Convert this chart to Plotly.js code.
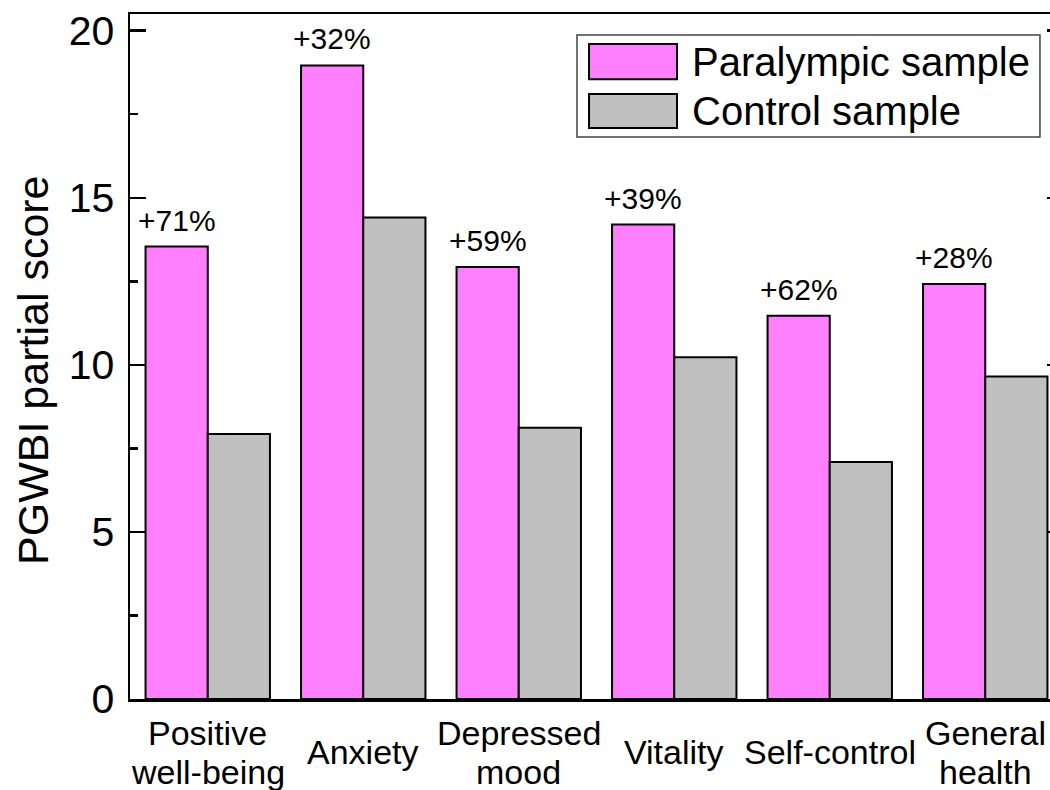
<!DOCTYPE html>
<html>
<head>
<meta charset="utf-8">
<script src="https://cdn.plot.ly/plotly-3.0.1.min.js"></script>
<style>
html,body{margin:0;padding:0;overflow:hidden;background:#fff;width:1050px;height:790px;}
#chart{width:1080px;height:790px;}
</style>
</head>
<body>
<div id="chart"></div>
<script>
var categories = ["Positive<br>well-being", "Anxiety", "Depressed<br>mood", "Vitality", "Self-control", "General<br>health"];
var paralympic = [13.54, 18.96, 12.93, 14.2, 11.47, 12.42];
var control = [7.93, 14.41, 8.12, 10.23, 7.09, 9.65];
var increase = ["+71%", "+32%", "+59%", "+39%", "+62%", "+28%"];
var seriesNames = ["Paralympic sample", "Control sample"];
var yTitle = "PGWBI partial score";
var yTicks = [0, 5, 10, 15, 20];

var FONT = "Liberation Sans, Arial, Helvetica, sans-serif";
var PINK = "#ff80ff", GRAY = "#c0c0c0";
var idx = categories.map(function(_, i){ return i; });

var traces = [
  {type:"bar", name:seriesNames[0], x:idx, y:paralympic,
   marker:{color:PINK, line:{color:"#000", width:2}}, hoverinfo:"y"},
  {type:"bar", name:seriesNames[1], x:idx, y:control,
   marker:{color:GRAY, line:{color:"#000", width:2}}, hoverinfo:"y"}
];

var annotations = [];
// percent increase labels above the Paralympic bars (group of 2 bars, bargap 0.2 -> offset 0.2)
increase.forEach(function(t, i){
  annotations.push({x:i - 0.2, xref:"x", y:paralympic[i], yref:"y", text:t, showarrow:false,
    xanchor:"center", yanchor:"bottom", yshift:8, font:{family:FONT, size:30, color:"#000"}});
});
// category labels (each line separately so single-line labels sit centred)
categories.forEach(function(c, i){
  var lines = c.split("<br>");
  lines.forEach(function(line, k){
    var off = (k - (lines.length - 1) / 2) * 39;
    annotations.push({x:i, xref:"x", y:-0.0774, yref:"paper", text:line, showarrow:false,
      xanchor:"center", yanchor:"middle", yshift:-off, font:{family:FONT, size:34, color:"#000"}});
  });
});
// y-axis title
annotations.push({x:-0.104, xref:"paper", y:0.4803, yref:"paper", text:yTitle, textangle:-90, showarrow:false,
  xanchor:"center", yanchor:"middle", font:{family:FONT, size:43, color:"#000"}});
// legend texts
annotations.push({x:0.6002, xref:"paper", y:0.93, yref:"paper", text:seriesNames[0], showarrow:false,
  xanchor:"left", yanchor:"middle", font:{family:FONT, size:40, color:"#000"}});
annotations.push({x:0.6002, xref:"paper", y:0.8584, yref:"paper", text:seriesNames[1], showarrow:false,
  xanchor:"left", yanchor:"middle", font:{family:FONT, size:40, color:"#000"}});

var shapes = [
  {type:"rect", xref:"paper", yref:"paper", x0:0.4791, x1:0.9753, y0:0.8204, y1:0.9693,
   line:{color:"#444", width:1.5}, fillcolor:"#fff", layer:"above"},
  {type:"rect", xref:"paper", yref:"paper", x0:0.492, x1:0.5863, y0:0.9047, y1:0.9562,
   line:{color:"#000", width:2}, fillcolor:PINK, layer:"above"},
  {type:"rect", xref:"paper", yref:"paper", x0:0.492, x1:0.5863, y0:0.8336, y1:0.8832,
   line:{color:"#000", width:2}, fillcolor:GRAY, layer:"above"}
];

var layout = {
  width:1080, height:790,
  margin:{l:130, r:17, t:14, b:91},
  paper_bgcolor:"#fff", plot_bgcolor:"#fff",
  font:{family:FONT, color:"#000"},
  showlegend:false,
  barmode:"group", bargap:0.2, bargroupgap:0,
  xaxis:{range:[-0.5, 5.5], showticklabels:false, ticks:"", showgrid:false, zeroline:false,
         showline:true, linecolor:"#000", linewidth:2.5, mirror:true, fixedrange:true},
  yaxis:{range:[0, 20.5], tickvals:yTicks, ticktext:yTicks.map(String), ticks:"inside", ticklen:16, tickwidth:2.5,
         tickcolor:"#000", showline:true, linecolor:"#000", linewidth:2.5, mirror:"ticks",
         showgrid:false, zeroline:false, ticklabelstandoff:5,
         minor:{ticks:"inside", ticklen:8, tickwidth:2.5, dtick:2.5, tickcolor:"#000", showgrid:false},
         tickfont:{family:FONT, size:41, color:"#000"}},
  annotations:annotations,
  shapes:shapes
};

Plotly.newPlot("chart", traces, layout, {displayModeBar:false, staticPlot:true});
</script>
</body>
</html>
